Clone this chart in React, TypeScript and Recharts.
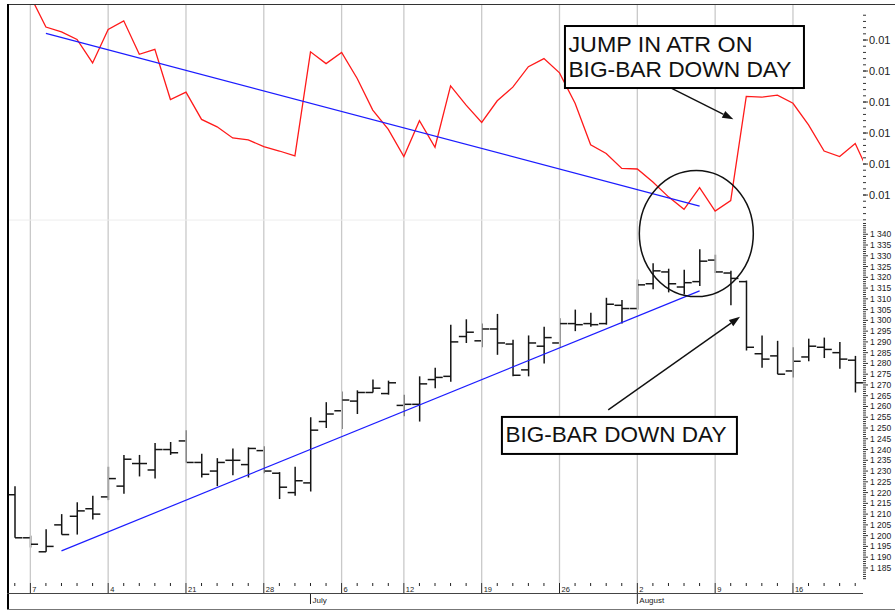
import React from 'react';
import {
  ComposedChart,
  Bar,
  Line,
  XAxis,
  YAxis,
  ReferenceLine,
  ReferenceDot
} from 'recharts';

// canvas + plot box
const CHART_W = 895;
const CHART_H = 610;
const PRICE_AXIS_W = 32;
const X_AXIS_H = 26;

// daily OHLC (price x 1000)
const opens = [
  1219, 1199, 1192.5, 1205, 1209, 1212.5, 1218, 1223, 1233.5, 1230.5,
  1240, 1244, 1234, 1230, 1235, 1233, 1239.5, 1229, 1220, 1224.5,
  1253, 1258, 1262.5, 1266.5, 1266, 1260.5, 1261, 1272.5, 1274, 1292.5,
  1290.5, 1296, 1289, 1277, 1288, 1289.5, 1298.5, 1298.5, 1298.5, 1307,
  1305.5, 1317, 1322.5, 1315.5, 1318, 1328, 1322, 1318, 1284.5, 1283.5,
  1276.5, 1283, 1287.5, 1285, 1281.5
];
const highs = [
  1223, 1200, 1203, 1210, 1215.5, 1218.5, 1232, 1237.5, 1237.5, 1243,
  1243.5, 1249, 1238, 1236, 1240.5, 1241, 1241.5, 1229.5, 1232, 1255,
  1262, 1267, 1267.5, 1272.5, 1272, 1265.5, 1274, 1278, 1298, 1300.5,
  1298.5, 1303, 1291, 1293, 1297, 1301, 1305, 1303.5, 1310.5, 1309.5,
  1319, 1326.5, 1324, 1323.5, 1333, 1330.5, 1323, 1318.5, 1293, 1290.5,
  1287.5, 1291.5, 1292, 1290, 1283.5
];
const lows = [
  1199, 1194.5, 1192.5, 1200.5, 1200.5, 1207.5, 1216.5, 1219.5, 1227.5, 1226.5,
  1237.5, 1234, 1227, 1223, 1228, 1227, 1229, 1217, 1218.5, 1220.5,
  1250, 1249.5, 1256.5, 1266.5, 1265.5, 1255.5, 1253, 1268.5, 1271.5, 1289.5,
  1287.5, 1284, 1274, 1274, 1280, 1287.5, 1295, 1297, 1298, 1298.5,
  1305, 1314.5, 1313, 1312, 1316, 1322, 1307, 1286, 1278, 1275,
  1273.5, 1281, 1282.5, 1277.5, 1266.5
];
const closes = [
  1199, 1196, 1195, 1200.5, 1211.5, 1210, 1226.5, 1235.5, 1233.5, 1240,
  1238.5, 1234, 1228.5, 1234, 1235, 1240.5, 1230, 1222.5, 1225.5, 1249,
  1256.5, 1263, 1266.5, 1268.5, 1271, 1261, 1270.5, 1273.5, 1290, 1294.5,
  1296, 1289.5, 1274.5, 1289.5, 1292, 1298.5, 1298, 1298, 1307.5, 1305.5,
  1316.5, 1323, 1317, 1317.5, 1327.5, 1322.5, 1319.5, 1287.5, 1282, 1275,
  1281, 1288, 1286.5, 1282, 1271
];

// ATR, one per bar plus the next day (runs off the right edge)
const atrValues = [
  0.01547, 0.01521, 0.01471, 0.01463, 0.01451, 0.01413, 0.01467, 0.01481, 0.01427, 0.01435,
  0.01354, 0.01366, 0.01322, 0.0131, 0.01292, 0.01289, 0.01278, 0.01271, 0.01263, 0.01431,
  0.01412, 0.0143, 0.01388, 0.01337, 0.01306, 0.01262, 0.0132, 0.01277, 0.01376, 0.01345,
  0.01317, 0.01352, 0.01374, 0.01407, 0.0142, 0.01397, 0.01348, 0.01281, 0.01267, 0.01243,
  0.01242, 0.01221, 0.01197, 0.01177, 0.01212, 0.01174, 0.01191, 0.01359, 0.01358, 0.01361,
  0.01348, 0.01313, 0.01271, 0.01262, 0.01283, 0.01229
];

// date axis
const weekStartIdx = [1, 6, 11, 16, 21, 25, 30, 35, 40, 45, 50];
const weekLabels = ['7', '4', '21', '28', '6', '12', '19', '26', '2', '9', '16'];
const monthIdx = [19, 40];
const monthLabels = ['July', 'August'];

// value axes
const PRICE_DOMAIN = [1178.0, 1446.5];
const ATR_DOMAIN = [0.005742, 0.015065];
const atrMajorTicks = [0.012, 0.0125, 0.013, 0.0135, 0.014, 0.0145];
const PANEL_SPLIT = 1346.6;

// trend lines drawn on the chart
const atrTrend = [{ x: 2, y: 0.014608 }, { x: 44, y: 0.011822 }];
const priceTrend = [{ x: 3, y: 1192.9 }, { x: 44, y: 1313.7 }];

const rows = opens.map((o, i) => ({
  i,
  o,
  h: highs[i],
  l: lows[i],
  c: closes[i],
  range: [lows[i], highs[i]]
}));
const atrRows = atrValues.map((v, i) => ({ i, atr: v }));
const xTicks = rows.map(r => r.i);
const priceTicks: number[] = [];
for (let v = 1180; v <= 1345; v++) priceTicks.push(v);
const atrMinorTicks: number[] = [];
for (let k = 116; k <= 149; k++) atrMinorTicks.push(k / 10000);

const FONT = '"Liberation Sans", Arial, sans-serif';
const INK = '#222';

const OhlcBar = (props: any) => {
  const { x, y, width, height, payload } = props;
  if (!payload || isNaN(y)) return null;
  const cx = x + width / 2;
  const top = Math.min(y, y + height);
  const bot = Math.max(y, y + height);
  const span = payload.h - payload.l || 1;
  const yo = top + ((payload.h - payload.o) / span) * (bot - top);
  const yc = top + ((payload.h - payload.c) / span) * (bot - top);
  return (
    <g stroke="#151515" strokeWidth={1.5}>
      <line x1={cx} x2={cx} y1={top} y2={bot} />
      <line x1={cx - 7.5} x2={cx} y1={yo} y2={yo} />
      <line x1={cx} x2={cx + 7.5} y1={yc} y2={yc} />
    </g>
  );
};

const PriceTick = (props: any) => {
  const { x, y, payload } = props;
  const v = payload.value;
  const major = v % 5 === 0 && v >= 1185 && v <= 1340;
  const label = `${Math.floor(v / 1000)} ${String(v % 1000).padStart(3, '0')}`;
  return (
    <g>
      <line x1={x} x2={x + (major ? 5 : 3)} y1={y} y2={y} stroke="#333" strokeWidth={1} />
      {major && (
        <text x={x + 7} y={y + 3} fontSize={8.5} fill={INK} stroke="none" fontFamily={FONT}>
          {label}
        </text>
      )}
    </g>
  );
};

const DateTick = (props: any) => {
  const { x, y, payload } = props;
  const i = payload.value;
  const w = weekStartIdx.indexOf(i);
  const m = monthIdx.indexOf(i);
  return (
    <g>
      <line x1={x} x2={x} y1={y} y2={y + (w >= 0 ? 10 : 3)} stroke={INK} strokeWidth={1} />
      {w >= 0 && (
        <text x={x + 2} y={y + 8.5} fontSize={7.5} fill={INK} stroke="none" fontFamily={FONT}>
          {weekLabels[w]}
        </text>
      )}
      {m >= 0 && (
        <g>
          <line x1={x} x2={x} y1={y + 10} y2={y + 21} stroke={INK} strokeWidth={1} />
          <text x={x + 2} y={y + 19.5} fontSize={8} fill={INK} stroke="none" fontFamily={FONT}>
            {monthLabels[m]}
          </text>
        </g>
      )}
    </g>
  );
};

const atrTickShape = (major: boolean) => (p: any) => {
  const xr = Math.max(p.x1, p.x2);
  return (
    <g>
      <line x1={xr} x2={xr + (major ? 5 : 3)} y1={p.y1} y2={p.y1} stroke="#333" strokeWidth={1} />
      {major && (
        <text x={xr + 6} y={p.y1 + 3.5} fontSize={11} fill={INK} stroke="none" fontFamily={FONT}>
          {atrMajorTicks[0].toFixed(2)}
        </text>
      )}
    </g>
  );
};

const arrowShape = (p: any) => {
  const { x1, y1, x2, y2 } = p;
  const a = Math.atan2(y2 - y1, x2 - x1);
  const len = 11;
  const half = 3.8;
  const bx = x2 - len * Math.cos(a);
  const by = y2 - len * Math.sin(a);
  const pts = [
    `${x2},${y2}`,
    `${bx + half * Math.sin(a)},${by - half * Math.cos(a)}`,
    `${bx - half * Math.sin(a)},${by + half * Math.cos(a)}`
  ].join(' ');
  return (
    <g>
      <line x1={x1} y1={y1} x2={bx} y2={by} stroke="#111" strokeWidth={1.4} />
      <polygon points={pts} fill="#111" />
    </g>
  );
};

const calloutBox = (lines: string[], w: number, h: number, widths: number[]) => (p: any) => (
  <g>
    <rect x={p.cx} y={p.cy} width={w} height={h} fill="#fff" stroke="#000" strokeWidth={2} />
    {lines.map((t, k) => (
      <text
        key={t}
        x={p.cx + 3.5}
        y={p.cy + 25.5 + k * 25.5}
        fontSize={22.5}
        fill="#111"
        stroke="none"
        fontFamily={FONT}
        textLength={widths[k]}
        lengthAdjust="spacingAndGlyphs"
      >
        {t}
      </text>
    ))}
  </g>
);

const ellipseShape = (p: any) => (
  <ellipse cx={p.cx} cy={p.cy} rx={57} ry={63} fill="none" stroke="#111" strokeWidth={1.5} />
);

export default function App() {
  return (
    <div
      style={{
        position: 'absolute',
        left: 0,
        top: 0,
        width: CHART_W,
        height: CHART_H,
        background: '#fff',
        overflow: 'hidden'
      }}
    >
      <ComposedChart
        width={CHART_W}
        height={CHART_H}
        data={rows}
        margin={{ top: 5, right: 0, bottom: 1, left: 7 }}
      >
        <XAxis
          dataKey="i"
          type="number"
          domain={[-0.5, 54.5]}
          allowDataOverflow
          ticks={xTicks}
          interval={0}
          tick={DateTick}
          tickLine={false}
          axisLine={false}
          tickSize={0}
          tickMargin={0}
          height={X_AXIS_H}
        />
        <YAxis
          yAxisId="price"
          orientation="right"
          type="number"
          domain={PRICE_DOMAIN}
          allowDataOverflow
          ticks={priceTicks}
          interval={0}
          tick={PriceTick}
          tickLine={false}
          axisLine={false}
          tickSize={0}
          tickMargin={0}
          width={PRICE_AXIS_W}
        />
        <YAxis yAxisId="atr" hide type="number" domain={ATR_DOMAIN} allowDataOverflow />

        {weekStartIdx.map(i => (
          <ReferenceLine key={`g${i}`} yAxisId="price" x={i} stroke="#c9c9c9" strokeWidth={1.3} />
        ))}
        <ReferenceLine yAxisId="price" y={PANEL_SPLIT} stroke="#ededed" strokeWidth={1} />

        {atrMinorTicks.map(t => (
          <ReferenceLine key={`am${t}`} yAxisId="atr" y={t} stroke="none" shape={atrTickShape(false)} />
        ))}
        {atrMajorTicks.map(t => (
          <ReferenceLine key={`aM${t}`} yAxisId="atr" y={t} stroke="none" shape={atrTickShape(true)} />
        ))}

        <Bar yAxisId="price" dataKey="range" barSize={14} shape={OhlcBar} isAnimationActive={false} />
        <Line
          yAxisId="atr"
          data={atrRows}
          dataKey="atr"
          type="linear"
          stroke="#ff1a1a"
          strokeWidth={1.3}
          dot={false}
          activeDot={false}
          isAnimationActive={false}
        />

        <ReferenceLine yAxisId="atr" segment={atrTrend} stroke="#1c1cff" strokeWidth={1.2} />
        <ReferenceLine yAxisId="price" segment={priceTrend} stroke="#1c1cff" strokeWidth={1.2} />

        <ReferenceDot yAxisId="price" x={43.79} y={1340.3} shape={ellipseShape} />
        <ReferenceLine
          yAxisId="atr"
          segment={[{ x: 42.21, y: 0.013721 }, { x: 46.17, y: 0.013221 }]}
          shape={arrowShape}
        />
        <ReferenceLine
          yAxisId="price"
          segment={[{ x: 38.13, y: 1258.4 }, { x: 46.6, y: 1301.7 }]}
          shape={arrowShape}
        />
        <ReferenceDot
          yAxisId="atr"
          x={35.35}
          y={0.014726}
          shape={calloutBox(['JUMP IN ATR ON', 'BIG-BAR DOWN DAY'], 239, 62, [184, 223])}
        />
        <ReferenceDot
          yAxisId="price"
          x={31.3}
          y={1255.14}
          shape={calloutBox(['BIG-BAR DOWN DAY'], 235, 37, [221])}
        />
      </ComposedChart>

      {/* frame */}
      <div style={{ position: 'absolute', left: 7, top: 4, width: 888, height: 0, borderTop: '1.5px solid #333' }} />
      <div style={{ position: 'absolute', left: 6.5, top: 4, width: 2, height: 606, background: '#000' }} />
      <div style={{ position: 'absolute', left: 7, top: 592.5, width: 856, height: 0, borderTop: '1px solid #444' }} />
      <div style={{ position: 'absolute', left: 7, top: 608.5, width: 888, height: 0, borderTop: '1px solid #777' }} />
    </div>
  );
}
